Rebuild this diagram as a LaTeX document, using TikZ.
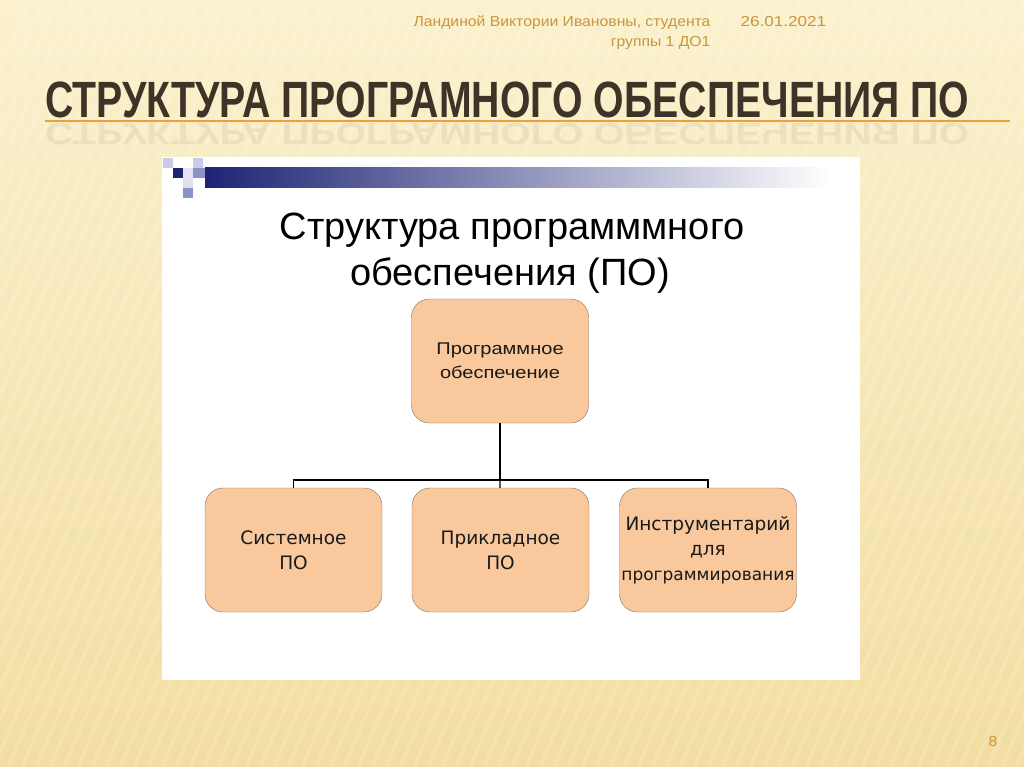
\documentclass[tikz,border=0pt]{standalone}
\usepackage{fontspec}
\setmainfont{Liberation Sans}
\newfontfamily\boxfont{DejaVu Sans}
\newfontfamily\widefont[FakeStretch=1.18]{Liberation Sans}
\newfontfamily\notefont[FakeStretch=1.085]{Liberation Sans}
\usetikzlibrary{positioning}

\definecolor{bgtop}{HTML}{FBF1CE}
\definecolor{bgbottom}{HTML}{F3DDA0}
\definecolor{titlebrown}{HTML}{3E3327}
\definecolor{lineorange}{HTML}{E9A13E}
\definecolor{headgold}{HTML}{C8963C}
\definecolor{boxfill}{HTML}{F9C89C}
\definecolor{boxline}{HTML}{85705F}
\definecolor{navy}{HTML}{1E2475}
\definecolor{lightnavy}{HTML}{C9CCE6}
\definecolor{midnavy}{HTML}{8D93C6}

\begin{document}
\begin{tikzpicture}[x=1pt,y=-1pt]

    \tikzset{
      part/.style={
        draw=boxline,
        fill=boxfill,
        rounded corners=18pt,
        minimum width=177pt,
        minimum height=124pt,
        align=center,
        text=black!90,
        inner sep=1pt,
        font=\boxfont\fontsize{18.5}{25}\selectfont,
      },
      heading/.style={
        font=\fontsize{38}{45}\selectfont,
        anchor=base,
        inner sep=0pt,
      },
      note/.style={
        text=headgold,
        font=\notefont\fontsize{14.5}{20}\selectfont,
      },
      titletext/.style={
        anchor=base west,
        inner sep=0pt,
        xscale=0.769,
        text=titlebrown,
        font=\fontsize{51}{51}\bfseries\selectfont,
      },
    }
    \useasboundingbox (0,0) rectangle (1024,767);
    % background
    \shade[top color=bgtop, bottom color=bgbottom] (0,0) rectangle (1024,767);
    \begin{scope}
    \clip (0,0) rectangle (1024,767);
    \foreach \s in {-300,-286,...,1030}
      \draw[white, opacity=0.16, line width=4pt] (\s,767) -- (\s+330,0);
    \end{scope}

    % header
    \node[note, anchor=base east] (author) at (714,27) {Ландиной Виктории Ивановны, студента};
    \node[note, anchor=base east] (group) at (714,47) {группы 1 ДО1};
    \node[note, anchor=base west, font=\widefont\fontsize{14.5}{20}\selectfont] (date) at (737,27) {26.01.2021};

    % title and its reflection
    \node[titletext] (title) at (45,118) {СТРУКТУРА ПРОГРАМНОГО ОБЕСПЕЧЕНИЯ ПО};
    \node[titletext, yscale=-0.6, opacity=0.07] (mirror) at (45,124) {СТРУКТУРА ПРОГРАМНОГО ОБЕСПЕЧЕНИЯ ПО};
    \draw[lineorange, line width=2pt] (45,121) -- (1010,121);

    % white slide
    \fill[white] (162,157) rectangle (860,680);
    \shade[left color=navy, right color=white] (205,168) rectangle (830,188);
    \fill[lightnavy] (163,158) rectangle (173,168);
    \fill[navy] (173,168) rectangle (183,178);
    \fill[lightnavy!50] (183,168) rectangle (193,178);
    \fill[lightnavy] (193,158) rectangle (203,168);
    \fill[midnavy] (193,168) rectangle (205,178);
    \fill[lightnavy!60] (183,178) rectangle (193,188);
    \fill[midnavy] (183,188) rectangle (193,198);

    \node[heading] (caption) at (512,240) {Структура программмного};
    \node[heading] (caption2) at (510,285) {обеспечения (ПО)};

    % tree
    \node[part, font=\widefont\fontsize{17}{24}\selectfont] (po) at (500,361) {Программное\\обеспечение};
    \node[part] (sys) at (293.5,550) {Системное\\ПО};
    \node[part] (app) at (500.5,550) {Прикладное\\ПО};
    \node[part] (tools) at (708,550) {Инструментарий\\для\\{\fontsize{17}{25}\selectfont программирования}};
    \coordinate (hub) at (500,480);

    \draw[line width=1.2pt] (po) -- (hub);
    \draw[line width=1.2pt] (sys.north) |- (hub) -| (tools.north);
    \draw[line width=1.2pt] (hub) -- (app);

    \node[note] (page) at (993,741) {8};

\end{tikzpicture}
\end{document}
